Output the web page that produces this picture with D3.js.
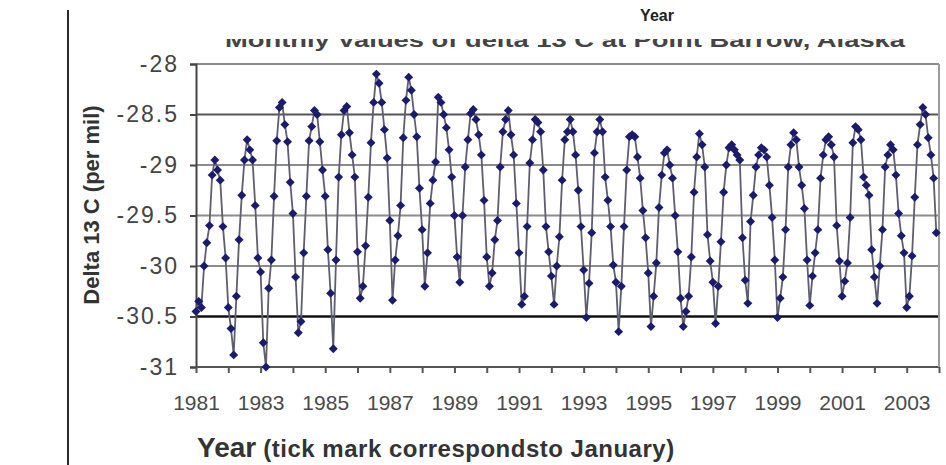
<!DOCTYPE html>
<meta charset="utf-8">
<style>
body { margin: 0; background: #fff; }
text { font-family: "Liberation Sans", Arial, sans-serif; }
.grid line { stroke: #8c8c8c; stroke-width: 2px; }
.line { fill: none; stroke: #5e5e70; stroke-width: 1.8px; }
.dot { fill: #1b1b6e; }
</style>
<body>
<script src="https://d3js.org/d3.v7.min.js"></script>
<script>

// monthly delta 13 C values (per mil), Jan..Dec
var d1981 = [-30.45, -30.35, -30.41, -30.0, -29.77, -29.6, -29.1, -28.95, -29.05, -29.15, -29.61, -29.92];
var d1982 = [-30.41, -30.62, -30.88, -30.3, -29.74, -29.3, -28.95, -28.75, -28.85, -28.95, -29.4, -29.92];
var d1983 = [-30.06, -30.76, -31.0, -30.22, -29.94, -29.31, -28.76, -28.43, -28.38, -28.6, -28.77, -29.17];
var d1984 = [-29.48, -30.11, -30.66, -30.55, -29.87, -29.31, -28.76, -28.62, -28.46, -28.5, -28.77, -29.05];
var d1985 = [-29.31, -29.84, -30.27, -30.82, -29.94, -29.12, -28.7, -28.46, -28.42, -28.68, -28.9, -29.12];
var d1986 = [-29.86, -30.32, -30.2, -29.8, -29.32, -28.78, -28.38, -28.1, -28.19, -28.38, -28.65, -28.93];
var d1987 = [-29.55, -30.34, -29.94, -29.7, -29.4, -28.73, -28.36, -28.13, -28.26, -28.5, -28.72, -29.23];
var d1988 = [-29.64, -30.2, -29.87, -29.38, -29.15, -28.97, -28.33, -28.38, -28.5, -28.63, -28.85, -29.12];
var d1989 = [-29.5, -29.91, -30.16, -29.5, -29.02, -28.75, -28.49, -28.45, -28.55, -28.7, -28.9, -29.35];
var d1990 = [-29.91, -30.2, -30.07, -29.74, -29.55, -29.02, -28.67, -28.55, -28.46, -28.7, -28.9, -29.38];
var d1991 = [-29.87, -30.38, -30.3, -29.61, -28.98, -28.75, -28.55, -28.58, -28.67, -29.05, -29.61, -29.86];
var d1992 = [-30.1, -30.38, -30.0, -29.71, -29.15, -28.75, -28.67, -28.55, -28.67, -28.9, -29.25, -29.61];
var d1993 = [-30.04, -30.51, -30.17, -29.67, -28.88, -28.67, -28.55, -28.67, -29.12, -29.35, -29.61, -29.99];
var d1994 = [-30.16, -30.65, -30.2, -29.61, -29.05, -28.72, -28.7, -28.72, -28.92, -29.13, -29.45, -29.72];
var d1995 = [-30.07, -30.6, -30.3, -29.97, -29.42, -29.1, -28.88, -28.85, -29.0, -29.13, -29.5, -29.86];
var d1996 = [-30.32, -30.6, -30.45, -30.3, -29.91, -29.27, -28.92, -28.69, -28.8, -29.02, -29.69, -29.95];
var d1997 = [-30.16, -30.57, -30.2, -29.76, -29.27, -29.0, -28.83, -28.8, -28.85, -28.9, -28.95, -29.72];
var d1998 = [-30.14, -30.37, -29.56, -29.3, -29.02, -28.9, -28.83, -28.85, -28.92, -29.2, -29.52, -29.94];
var d1999 = [-30.51, -30.32, -30.11, -29.64, -29.02, -28.8, -28.68, -28.75, -29.02, -29.2, -29.43, -29.94];
var d2000 = [-30.39, -30.1, -29.87, -29.64, -29.13, -28.9, -28.75, -28.72, -28.8, -28.92, -29.6, -29.95];
var d2001 = [-30.3, -30.15, -29.97, -29.52, -28.78, -28.62, -28.65, -28.75, -29.12, -29.2, -29.3, -29.84];
var d2002 = [-30.11, -30.37, -30.0, -29.64, -29.02, -28.9, -28.8, -28.85, -29.1, -29.48, -29.7, -29.87];
var d2003 = [-30.41, -30.3, -29.9, -29.32, -28.8, -28.6, -28.43, -28.5, -28.73, -28.9, -29.13, -29.67];

var years = [1981, 1982, 1983, 1984, 1985, 1986, 1987, 1988, 1989, 1990, 1991, 1992,
             1993, 1994, 1995, 1996, 1997, 1998, 1999, 2000, 2001, 2002, 2003];
var yearValues = [d1981, d1982, d1983, d1984, d1985, d1986, d1987, d1988, d1989, d1990, d1991, d1992,
                  d1993, d1994, d1995, d1996, d1997, d1998, d1999, d2000, d2001, d2002, d2003];

// axis ticks
var yTicks = [-28, -28.5, -29, -29.5, -30, -30.5, -31];
var xTicks = [1981, 1982, 1983, 1984, 1985, 1986, 1987, 1988, 1989, 1990, 1991, 1992,
              1993, 1994, 1995, 1996, 1997, 1998, 1999, 2000, 2001, 2002, 2003, 2004];
var xLabels = [1981, 1983, 1985, 1987, 1989, 1991, 1993, 1995, 1997, 1999, 2001, 2003];

// flatten into points, month m sits at year + m/12
var data = [];
years.forEach(function(yr, i) {
  yearValues[i].forEach(function(v, m) {
    data.push({t: yr + m / 12, value: v});
  });
});

var width = 946, height = 465;
var plot = {left: 196, right: 939, top: 64, bottom: 367};

var x = d3.scaleLinear().domain([1981, 2004]).range([plot.left, plot.right]);
var y = d3.scaleLinear().domain([-31, -28]).range([plot.bottom, plot.top]);

var svg = d3.select("body").append("svg")
    .attr("width", width)
    .attr("height", height);

// left border line of the picture
svg.append("line")
    .attr("x1", 68).attr("x2", 68)
    .attr("y1", 10).attr("y2", height)
    .attr("stroke", "#2a2a2a")
    .attr("stroke-width", 2);

// top header "Year"
svg.append("text")
    .attr("x", 657)
    .attr("y", 21)
    .attr("text-anchor", "middle")
    .attr("font-size", "16px")
    .attr("font-weight", "bold")
    .attr("fill", "#222")
    .text("Year");

// chart title, only its lower half shows in the picture
svg.append("clipPath")
    .attr("id", "titleclip")
  .append("rect")
    .attr("x", 0).attr("y", 39)
    .attr("width", width).attr("height", 12);

svg.append("text")
    .attr("clip-path", "url(#titleclip)")
    .attr("x", 225)
    .attr("y", 47)
    .attr("font-size", "20px")
    .attr("font-weight", "bold")
    .attr("fill", "#444")
    .attr("textLength", 680)
    .attr("lengthAdjust", "spacingAndGlyphs")
    .text("Monthly Values of delta 13 C at Point Barrow, Alaska");

// gridlines
svg.append("g")
    .attr("class", "grid")
  .selectAll("line")
  .data(yTicks)
  .enter().append("line")
    .attr("x1", plot.left)
    .attr("x2", plot.right)
    .attr("y1", function(d) { return y(d); })
    .attr("y2", function(d) { return y(d); })
    .style("stroke", function(d) {
      if (d === -30.5) return "#111";
      if (d === -28.5) return "#555";
      if (d === -31) return "#555";
      return null;
    })
    .style("stroke-width", function(d) { return d === -30.5 ? "2.5px" : null; });

// right border
svg.append("line")
    .attr("x1", plot.right).attr("x2", plot.right)
    .attr("y1", plot.top).attr("y2", plot.bottom)
    .attr("stroke", "#9a9a9a")
    .attr("stroke-width", 2);

// Y axis
var yAxis = svg.append("g")
    .attr("transform", "translate(" + plot.left + ",0)")
    .call(d3.axisLeft(y).tickValues(yTicks).tickSize(6).tickPadding(11)
      .tickFormat(function(d) { return String(d); }));
yAxis.select(".domain").attr("stroke", "#444").attr("stroke-width", 2);
yAxis.selectAll(".tick line").attr("stroke", "#444").attr("stroke-width", 2);
yAxis.selectAll(".tick text")
    .attr("font-size", "23px")
    .attr("letter-spacing", "2px")
    .attr("fill", "#444")
    .attr("font-family", "Liberation Sans, Arial, sans-serif");

// X axis
var xAxis = svg.append("g")
    .attr("transform", "translate(0," + plot.bottom + ")")
    .call(d3.axisBottom(x).tickValues(xTicks).tickSize(6).tickPadding(22)
      .tickFormat(function(d) { return xLabels.indexOf(d) >= 0 ? String(d) : ""; }));
xAxis.select(".domain").remove();
xAxis.selectAll(".tick line").attr("stroke", "#555").attr("stroke-width", 2);
xAxis.selectAll(".tick text")
    .attr("font-size", "21px")
    .attr("fill", "#4a4a4a")
    .attr("font-family", "Liberation Sans, Arial, sans-serif");

// the data line
var valueline = d3.line()
    .x(function(d) { return x(d.t); })
    .y(function(d) { return y(d.value); });

svg.append("path")
    .datum(data)
    .attr("class", "line")
    .attr("d", valueline);

// diamond markers
svg.append("g")
  .selectAll("path")
  .data(data)
  .enter().append("path")
    .attr("class", "dot")
    .attr("d", d3.symbol().type(d3.symbolSquare).size(40))
    .attr("transform", function(d) {
      return "translate(" + x(d.t) + "," + y(d.value) + ") rotate(45)";
    });

// Y axis title
svg.append("text")
    .attr("transform", "translate(99,205) rotate(-90)")
    .attr("text-anchor", "middle")
    .attr("font-size", "22px")
    .attr("font-weight", "bold")
    .attr("fill", "#333")
    .text("Delta 13 C (per mil)");

// X axis title
var xt = svg.append("text")
    .attr("x", 197)
    .attr("y", 457)
    .attr("font-weight", "bold")
    .attr("fill", "#333");
xt.append("tspan")
    .attr("font-size", "28px")
    .text("Year");
xt.append("tspan")
    .attr("font-size", "24px")
    .attr("letter-spacing", "0.5px")
    .text(" (tick mark correspondsto January)");

</script>
</body>
